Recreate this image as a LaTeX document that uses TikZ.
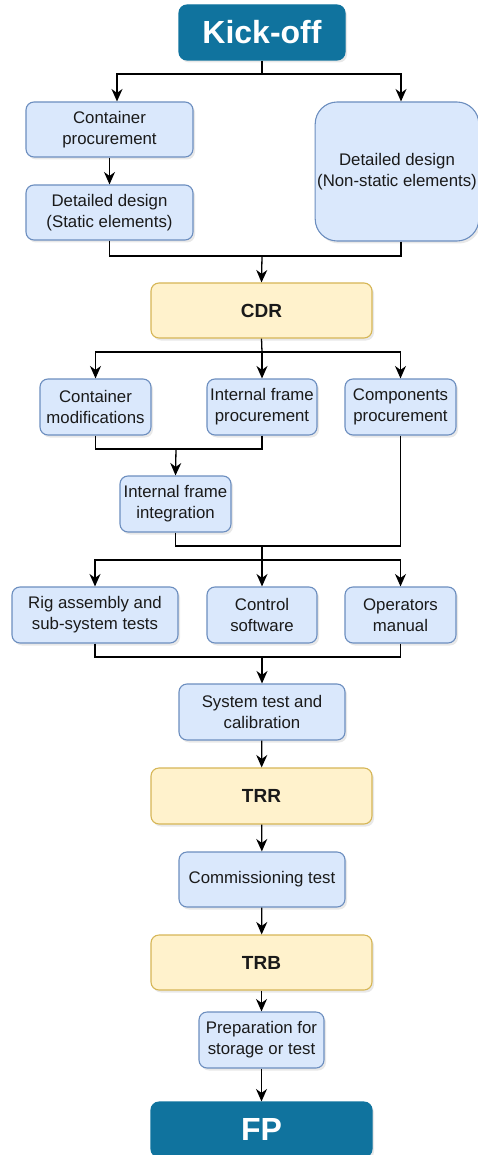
\documentclass[tikz,border=0pt]{standalone}
\usepackage{fontspec}
\setmainfont{Liberation Sans}
\usetikzlibrary{arrows.meta,shadows}
\definecolor{bfill}{HTML}{DAE8FC}
\definecolor{bline}{HTML}{6C8EBF}
\definecolor{yfill}{HTML}{FFF2CC}
\definecolor{yline}{HTML}{D6B656}
\definecolor{teal}{HTML}{10739E}
\definecolor{txt}{HTML}{1A1A1A}
\tikzset{
  base/.style={rounded corners=8pt, line width=1.1pt, align=center, inner sep=2pt,
    text=txt, font=\fontsize{16.8}{20.8}\selectfont,
    drop shadow={opacity=0.18, shadow xshift=2pt, shadow yshift=-2.5pt}},
  bluebox/.style={base, fill=bfill, draw=bline},
  yelbox/.style={base, fill=yfill, draw=yline, font=\bfseries\fontsize{19}{22}\selectfont},
  tealbox/.style={base, fill=teal, draw=teal, text=white, font=\bfseries\fontsize{32}{36}\selectfont},
  arr/.style={line width=1.3pt, -{Stealth[length=12.5pt,width=11pt,inset=4pt]}},
  ln/.style={line width=1.3pt},
}
\begin{document}
\begin{tikzpicture}
\begin{scope}[x=1pt,y=-1pt]
\useasboundingbox (0,0) rectangle (477,1155);
% nodes
\node[tealbox, minimum width=166pt, minimum height=55pt] (kick) at (262,32.5) {Kick-off};
\node[bluebox, minimum width=167pt, minimum height=55pt] (cp) at (109.5,129.5) {Container\\procurement};
\node[bluebox, minimum width=167pt, minimum height=55pt] (dds) at (109.5,212.5) {Detailed design\\(Static elements)};
\node[bluebox, rounded corners=22pt, minimum width=160pt, minimum height=139pt] (ddn) at (397,171.5) {Detailed design\\(Non-static elements)};
\node[yelbox, minimum width=221pt, minimum height=55pt] (cdr) at (261.5,310.5) {CDR};
\node[bluebox, minimum width=111pt, minimum height=56pt] (cm) at (95.5,407) {Container\\modifications};
\node[bluebox, minimum width=110pt, minimum height=56pt] (ifp) at (262,407) {Internal frame\\procurement};
\node[bluebox, minimum width=111pt, minimum height=56pt] (comp) at (400.5,407) {Components\\procurement};
\node[bluebox, minimum width=111pt, minimum height=56pt] (ifi) at (175.5,504) {Internal frame\\integration};
\node[bluebox, minimum width=166pt, minimum height=56pt] (rig) at (95,615) {Rig assembly and\\sub-system tests};
\node[bluebox, minimum width=110pt, minimum height=56pt] (cs) at (262,615) {Control\\software};
\node[bluebox, minimum width=111pt, minimum height=56pt] (om) at (400.5,615) {Operators\\manual};
\node[bluebox, minimum width=166pt, minimum height=56pt] (stc) at (262,712) {System test and\\calibration};
\node[yelbox, minimum width=221pt, minimum height=56pt] (trr) at (261.5,796) {TRR};
\node[bluebox, minimum width=166pt, minimum height=55pt] (ct) at (262,879.5) {Commissioning test};
\node[yelbox, minimum width=221pt, minimum height=55pt] (trb) at (261.5,962.5) {TRB};
\node[bluebox, minimum width=125pt, minimum height=56pt] (prep) at (261.5,1040) {Preparation for\\storage or test};
\node[tealbox, minimum width=221pt, minimum height=55pt] (fp) at (261.5,1129.5) {FP};
% junction coordinates
\coordinate (j1) at (262,74);
\coordinate (j2) at (262,256);
\coordinate (j3) at (262,352);
\coordinate (j4) at (176,449);
\coordinate (j5) at (262,546);
\coordinate (j6) at (262,560);
\coordinate (j7) at (262,657);
\end{scope}
% connectors
\draw[ln] (kick.south) -- (j1);
\draw[arr] (j1) -| ([xshift=7.5pt]cp.north);
\draw[arr] (j1) -| ([xshift=4pt]ddn.north);
\draw[arr] (cp) -- (dds);
\draw[ln] (dds.south) |- (j2);
\draw[ln] ([xshift=4pt]ddn.south) |- (j2);
\draw[arr] (j2) -- (cdr.north);
\draw[ln] (cdr.south) -- (j3);
\draw[arr] (j3) -| (cm.north);
\draw[arr] (j3) -- (ifp.north);
\draw[arr] (j3) -| (comp.north);
\draw[ln] (cm.south) |- (j4);
\draw[ln] (ifp.south) |- (j4);
\draw[arr] (j4) -- (ifi.north);
\draw[ln] (ifi.south) |- (j5);
\draw[ln] (comp.south) |- (j5);
\draw[ln] (j5) -- (j6);
\draw[arr] (j6) -| (rig.north);
\draw[arr] (j6) -- (cs.north);
\draw[arr] (j6) -| (om.north);
\draw[ln] (rig.south) |- (j7);
\draw[ln] (om.south) |- (j7);
\draw[arr] (j7) -- (stc.north);
\draw[arr] (stc) -- (trr);
\draw[arr] (trr) -- (ct);
\draw[arr] (ct) -- (trb);
\draw[arr] (trb) -- (prep);
\draw[arr] (prep) -- (fp);
\end{tikzpicture}
\end{document}
